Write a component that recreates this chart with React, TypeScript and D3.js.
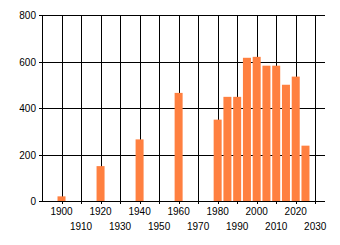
import React from "react";
import * as d3 from "d3";

const years = [1900, 1920, 1940, 1960, 1980, 1985, 1990, 1995, 2000, 2005, 2010, 2015, 2020, 2025];
const values = [20, 150, 265, 465, 350, 448, 448, 616, 620, 582, 582, 500, 535, 238];
const xTicks = [1900, 1910, 1920, 1930, 1940, 1950, 1960, 1970, 1980, 1990, 2000, 2010, 2020, 2030];
const yTicks = [0, 200, 400, 600, 800];

export default function App() {
  const W = 340, H = 245;
  const left = 42, right = 325, top = 15, bottom = 201;
  const x = d3.scaleLinear().domain([1890, 2035]).range([left, right]);
  const y = d3.scaleLinear().domain([0, 800]).range([bottom, top]);
  const font = "'Liberation Sans', Arial, sans-serif";
  return (
    <svg width={W} height={H} style={{ position: "absolute", left: 0, top: 0 }}>
      <rect width={W} height={H} fill="#fff" />
      {yTicks.map((t) => (
        <g key={"y" + t}>
          <line x1={left - 3} x2={right} y1={Math.round(y(t)) + 0.5} y2={Math.round(y(t)) + 0.5} stroke="#000" />
          <text x={36} y={Math.round(y(t)) + 4} textAnchor="end" fontFamily={font} fontSize={10} fill="#000">{t}</text>
        </g>
      ))}
      {xTicks.map((t, i) => (
        <g key={"x" + t}>
          <line x1={Math.round(x(t)) + 0.5} x2={Math.round(x(t)) + 0.5} y1={top} y2={bottom + 3} stroke="#000" />
          <text x={x(t)} y={i % 2 === 0 ? 215 : 230} textAnchor="middle" fontFamily={font} fontSize={10} fill="#000">{t}</text>
        </g>
      ))}
      <line x1={left + 0.5} x2={left + 0.5} y1={top} y2={bottom} stroke="#000" />
      {years.map((yr, i) => (
        <rect key={"b" + yr} x={x(yr - 2.05)} width={x(yr + 2.05) - x(yr - 2.05)} y={y(values[i])} height={y(0) - y(values[i])} fill="#FF8040" />
      ))}
      <line x1={left} x2={right} y1={bottom + 0.5} y2={bottom + 0.5} stroke="#000" />
    </svg>
  );
}
